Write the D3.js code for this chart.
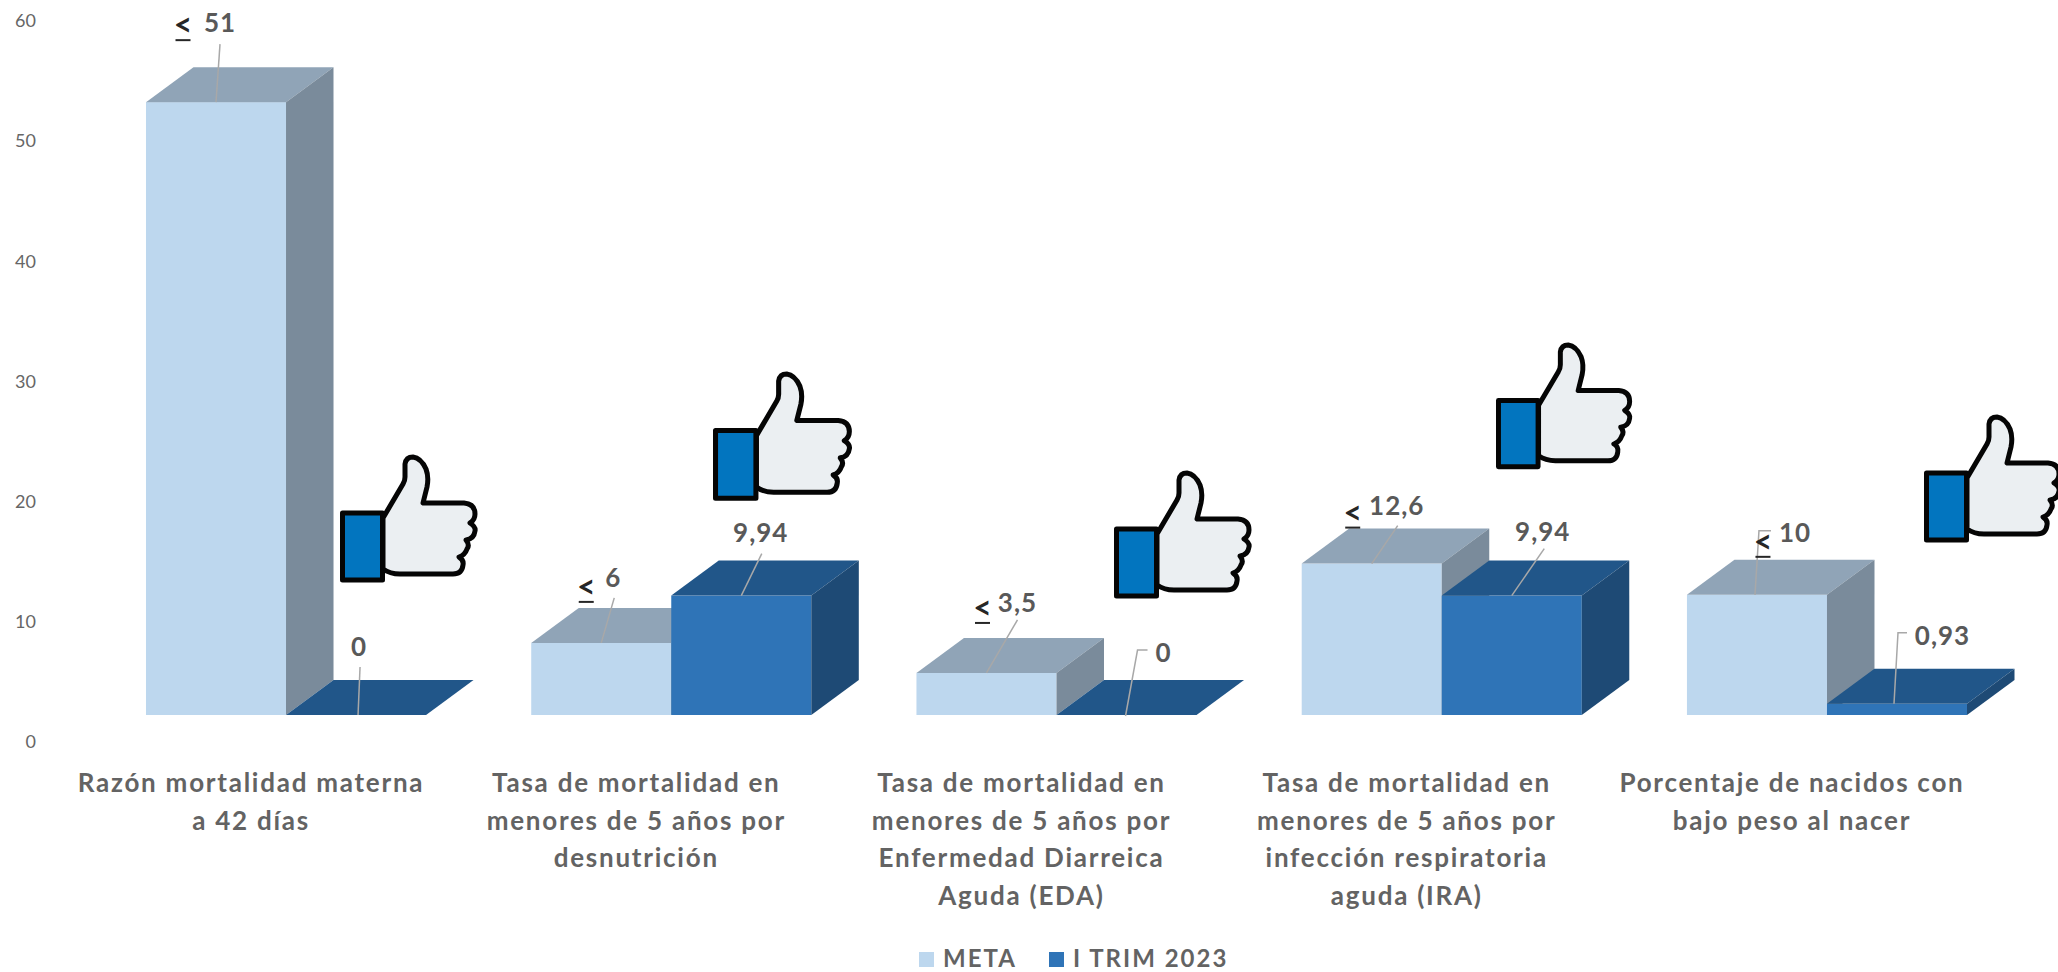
<!DOCTYPE html>
<html>
<head>
<meta charset="utf-8">
<title>Indicadores I TRIM 2023</title>
<script src="https://cdn.jsdelivr.net/npm/d3@7"></script>
<style>
  html, body { margin: 0; padding: 0; background: #fff; overflow: hidden; }
  text { font-family: Lato, "Open Sans", sans-serif; }
</style>
</head>
<body>
<div id="chart"></div>
<script>
// values
var categories = [
  "Razón mortalidad materna a 42 días",
  "Tasa de mortalidad en menores de 5 años por desnutrición",
  "Tasa de mortalidad en menores de 5 años por Enfermedad Diarreica Aguda (EDA)",
  "Tasa de mortalidad en menores de 5 años por infección respiratoria aguda (IRA)",
  "Porcentaje de nacidos con bajo peso al nacer"
];
var categoryLines = [
  ["Razón mortalidad materna", "a 42 días"],
  ["Tasa de mortalidad en", "menores de 5 años por", "desnutrición"],
  ["Tasa de mortalidad en", "menores de 5 años por", "Enfermedad Diarreica", "Aguda (EDA)"],
  ["Tasa de mortalidad en", "menores de 5 años por", "infección respiratoria", "aguda (IRA)"],
  ["Porcentaje de nacidos con", "bajo peso al nacer"]
];
var seriesNames = ["META", "I TRIM 2023"];
var meta = [51, 6, 3.5, 12.6, 10];
var trim = [0, 9.94, 0, 9.94, 0.93];
var yTicks = [0, 10, 20, 30, 40, 50, 60];

// colours: front, top, side
var colors = {
  "META": ["#bdd7ee", "#90a4b7", "#7a8b9b"],
  "I TRIM 2023": ["#2f74b7", "#215689", "#1e4a75"]
};

// label placement, relative to the middle of the bar's top edge
var metaLabelPos = [[4, -79], [12, -65], [31, -70], [25, -58], [38, -62]];
var metaSignPos = [[-33, -77], [-15, -56], [-4, -65], [-19, -51], [6, -53]];
var metaLeaders = [
  [[4, -58], [0, 0]],
  [[13, -45], [0, 0]],
  [[31, -53], [0, 0]],
  [[26, -38], [0, 0]],
  [[14, -64], [2, -64], [-2, 0]]
];
var trimLabelPos = [[3, -68], [19.5, -63], [37, -62], [31, -64], [45.5, -68]];
var trimLeaders = [
  [[4, -48], [2, 0]],
  [[20.5, -42], [0, 0]],
  [[21, -65], [11, -65], [-1, 1]],
  [[32.5, -47], [0, 0]],
  [[10, -71], [1, -71], [-3, 0]]
];
// left, top and scale of each thumb
var thumbSpots = [[340, 455, 1], [713, 372, 1.01], [1114, 471, 1], [1496, 343, 0.99], [1924, 415, 1]];

var width = 2058, height = 972;
var depthX = 47.5, depthY = 35, baseShift = 27;

var svg = d3.select("#chart")
  .append("svg")
    .attr("width", width)
    .attr("height", height)
    .style("display", "block");

var x0 = d3.scaleBand()
  .domain(categories)
  .range([93.4, 2019.6])
  .paddingInner(0.273)
  .paddingOuter(0.1365);

var x1 = d3.scaleBand()
  .domain(seriesNames)
  .range([0, x0.bandwidth()]);

var y = d3.scaleLinear()
  .domain([0, 60])
  .range([742, 21]);

// y axis
var yAxis = svg.append("g")
  .attr("transform", "translate(36,0)")
  .call(d3.axisLeft(y).tickValues(yTicks).tickSize(0).tickPadding(0));
yAxis.select(".domain").remove();
yAxis.selectAll("text")
  .style("font-family", "Lato, sans-serif")
  .style("font-size", "18px")
  .attr("fill", "#666666");

// bars sit a little above the axis zero because of the 3d floor
var plot = svg.append("g").attr("transform", "translate(0," + (-baseShift) + ")");

function drawBars(name, values) {
  var c = colors[name];
  var w = x1.bandwidth();
  var g = plot.append("g").selectAll("g")
    .data(values)
    .join("g")
      .attr("transform", function(d, i) { return "translate(" + (x0(categories[i]) + x1(name)) + ",0)"; });

  g.append("rect")
    .attr("y", function(d) { return y(d); })
    .attr("width", w)
    .attr("height", function(d) { return y(0) - y(d); })
    .attr("fill", c[0]);

  g.append("path")
    .attr("fill", c[1])
    .attr("d", function(d) {
      var t = y(d);
      return "M0," + t + "L" + depthX + "," + (t - depthY) + "L" + (w + depthX) + "," + (t - depthY) + "L" + w + "," + t + "Z";
    });

  g.append("path")
    .attr("fill", c[2])
    .attr("d", function(d) {
      var t = y(d), b = y(0);
      return "M" + w + "," + t + "L" + (w + depthX) + "," + (t - depthY) + "L" + (w + depthX) + "," + (b - depthY) + "L" + w + "," + b + "Z";
    });
}

drawBars(seriesNames[0], meta);
drawBars(seriesNames[1], trim);

// leaders and value labels
var line = d3.line();

function drawLabels(name, values, labelPos, leaders) {
  values.forEach(function(v, i) {
    var cx = x0(categories[i]) + x1(name) + x1.bandwidth() / 2;
    var cy = y(v);
    plot.append("path")
      .attr("fill", "none")
      .attr("stroke", "#a8a8a8")
      .attr("stroke-width", 1.5)
      .attr("d", line(leaders[i].map(function(p) { return [cx + p[0], cy + p[1]]; })));
    plot.append("text")
      .attr("x", cx + labelPos[i][0])
      .attr("y", cy + labelPos[i][1])
      .attr("dy", "0.35em")
      .attr("text-anchor", "middle")
      .attr("fill", "#595959")
      .style("font-size", "26px")
      .style("font-weight", 700)
      .style("letter-spacing", "1px")
      .text(String(v).replace(".", ","));
  });
}

drawLabels(seriesNames[0], meta, metaLabelPos, metaLeaders);
drawLabels(seriesNames[1], trim, trimLabelPos, trimLeaders);

// the "less or equal" sign is a < with a stroke under it
meta.forEach(function(v, i) {
  var cx = x0(categories[i]) + x1(seriesNames[0]) + x1.bandwidth() / 2 + metaSignPos[i][0];
  var cy = y(v) + metaSignPos[i][1];
  plot.append("text")
    .attr("x", cx)
    .attr("y", cy)
    .attr("dy", "0.35em")
    .attr("text-anchor", "middle")
    .attr("fill", "#262626")
    .style("font-size", "32px")
    .style("font-weight", 700)
    .text("<");
  plot.append("line")
    .attr("x1", cx - 7.5).attr("x2", cx + 7.5)
    .attr("y1", cy + 15).attr("y2", cy + 15)
    .attr("stroke", "#262626")
    .attr("stroke-width", 2);
});

// category labels
categoryLines.forEach(function(lines, i) {
  var t = svg.append("text")
    .attr("text-anchor", "middle")
    .attr("fill", "#636363")
    .style("font-size", "26px")
    .style("font-weight", 700)
    .style("letter-spacing", "1.75px");
  lines.forEach(function(s, j) {
    t.append("tspan")
      .attr("x", x0(categories[i]) + x0.bandwidth() / 2 - 35)
      .attr("y", 783 + j * 37.5)
      .attr("dy", "0.35em")
      .text(s);
  });
});

// thumbs up
var handPath = "M43,63 L63,29 Q65,26 65,22 L65,9 Q66,2 73,2 Q81,3 86,14 Q89,22 87,32 L83,48 L124,48 Q135,49 135,59 " +
  "Q135,65 130,68 Q136,72 135,76 Q134,84 126,85 Q130,90 127,94 Q125,100 119,102 Q124,105 123,110 Q122,119 113,119 " +
  "L60,119 Q50,119 43,114 Z";

var thumbs = svg.append("g").selectAll("g")
  .data(thumbSpots)
  .join("g")
    .attr("transform", function(d) { return "translate(" + d[0] + "," + d[1] + ") scale(" + d[2] + ")"; });

thumbs.append("path")
  .attr("d", handPath)
  .attr("fill", "#ebeff2")
  .attr("stroke", "#050505")
  .attr("stroke-width", 5)
  .attr("stroke-linejoin", "round");

thumbs.append("rect")
  .attr("x", 2.5)
  .attr("y", 58)
  .attr("width", 40)
  .attr("height", 67)
  .attr("fill", "#0275bf")
  .attr("stroke", "#050505")
  .attr("stroke-width", 5)
  .attr("stroke-linejoin", "round");

// legend
var legendX = [919, 1049];
var legend = svg.append("g").selectAll("g")
  .data(seriesNames)
  .join("g")
    .attr("transform", function(d, i) { return "translate(" + legendX[i] + ",952)"; });

legend.append("rect")
  .attr("width", 15)
  .attr("height", 15)
  .attr("fill", function(d) { return colors[d][0]; });

legend.append("text")
  .attr("x", 24)
  .attr("y", 15)
  .attr("fill", "#636363")
  .style("font-size", "24px")
  .style("font-weight", 700)
  .style("letter-spacing", "2px")
  .text(function(d) { return d; });
</script>
</body>
</html>
